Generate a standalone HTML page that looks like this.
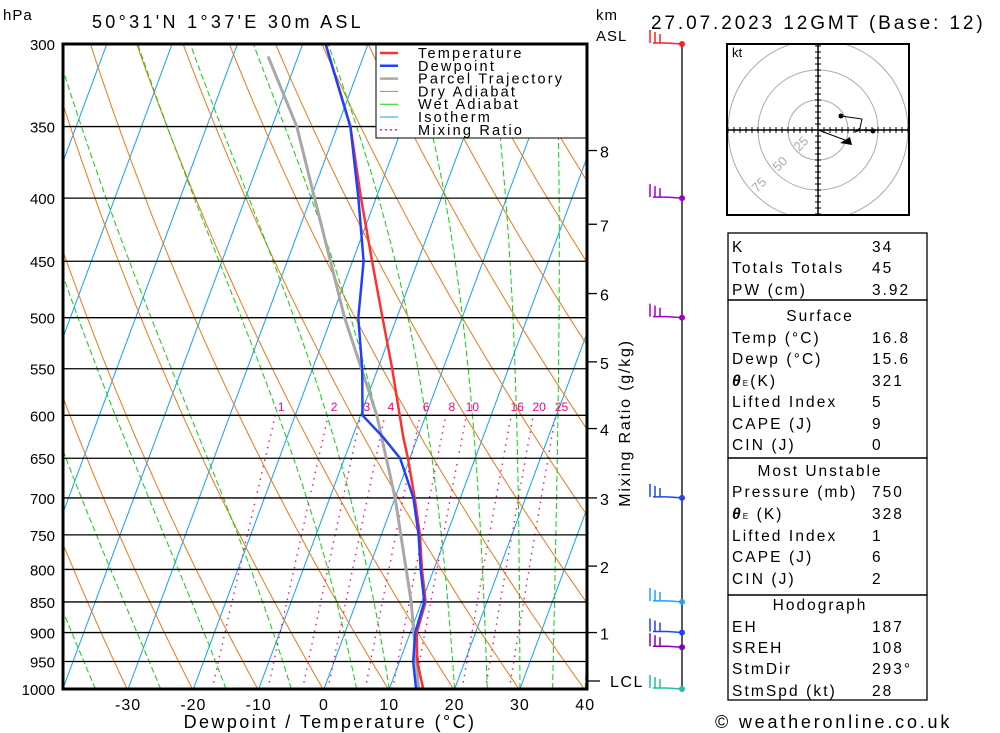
<!DOCTYPE html>
<html><head><meta charset="utf-8"><style>
body{margin:0;background:#fff;width:1000px;height:733px;overflow:hidden}
svg{display:block;font-family:"Liberation Sans",sans-serif}
</style></head><body>
<svg id="s" width="1000" height="733" viewBox="0 0 1000 733"></svg>
<script>
const pressures=[1000,950,900,850,800,750,700,650,625,600,550,500,450,400,350,300];
const temperature=[15.2,12.7,11.0,10.6,8.2,5.9,3.0,-0.3,-2.2,-4.0,-7.8,-12.2,-17.0,-22.3,-28.0,-36.5];
const dewpoint=[14.1,12.1,10.75,10.4,8.0,5.7,2.8,-1.5,-5.3,-9.7,-12.4,-15.9,-18.3,-22.7,-28.0,-36.5];
const parcelP=[1000,850,700,600,500,400,350,307];
const parcelT=[14.5,8.4,0,-7.5,-18,-29.4,-36.2,-44.6];
const isobarLabels=[300,350,400,450,500,550,600,650,700,750,800,850,900,950,1000];
const tempTicks=[-30,-20,-10,0,10,20,30,40];
const mixingRatios=[1,2,3,4,6,8,10,16,20,25];
const kmLabels=["1","2","3","4","5","6","7","8"];
const kmPressures=[900,795,700,615,543,478,420,366];
const windP=[300,400,500,700,850,900,925,1000];
const windColors=["#ff2020","#a000d0","#a000d0","#2040ff","#20a0ff","#2040ff","#8000c0","#20c0a0"];

const S=document.getElementById('s');const NS='http://www.w3.org/2000/svg';
function el(t,a,p){const e=document.createElementNS(NS,t);for(const k in a)e.setAttribute(k,a[k]);(p||S).appendChild(e);return e;}
const X0=324,KX=6.53,SK=0.372,YB=689,YT=44,PL=63,PR=587;
function yP(p){return YT+Math.log(p/300)/Math.log(1000/300)*(YB-YT);}
function xT(T,p){return X0+T*KX+SK*(YB-yP(p));}
function pts(arrP,arrT){return arrP.map((p,i)=>xT(arrT[i],p).toFixed(1)+','+yP(p).toFixed(1)).join(' ');}

el('defs',{}).innerHTML='<clipPath id="c"><rect x="63" y="44" width="524" height="645"/></clipPath>';
const g=el('g',{'clip-path':'url(#c)'});

for(let T=-120;T<=40;T+=10){const l=el('line',{x1:xT(T,1000),y1:YB,x2:xT(T,300),y2:YT,stroke:'#10a0ff','stroke-width':1},g);
}
for(let th=193;th<=473;th+=10){let a=[];for(let p=1000;p>=300;p-=10){a.push(xT(th*Math.pow(p/1000,0.2857)-273.15,p).toFixed(1)+','+yP(p).toFixed(1));}
const l=el('polyline',{points:a.join(' '),fill:'none',stroke:'#f07818','stroke-width':1},g);}
function es(T){return 6.112*Math.exp(17.67*T/(T+243.5));}
[-45,-35,-25,-15,-5,5,10,15,20,25,30,35,40].forEach(T0=>{let T=T0+273.15,a=[];
for(let p=1000;p>=300;p-=5){a.push(xT(T-273.15,p).toFixed(1)+','+yP(p).toFixed(1));
const rs=0.622*es(T-273.15)/(p-es(T-273.15));const dTdp=(287*T+2.5e6*rs)/(p*(1004+2.5e6*2.5e6*rs*0.622/(287*T*T)));T-=dTdp*5;}
const l=el('polyline',{points:a.join(' '),fill:'none',stroke:'#10d010','stroke-width':1,'stroke-dasharray':'6,3'},g);});
function tw(w,p){const e=w*p/(622+w);const L=Math.log(e/6.112);return 243.5*L/(17.67-L);}
mixingRatios.forEach(w=>{let a=[];for(let p=1000;p>=600;p-=10)a.push(xT(tw(w,p),p).toFixed(1)+','+yP(p).toFixed(1));
const l=el('polyline',{points:a.join(' '),fill:'none',stroke:'#ff0080','stroke-width':1.3,'stroke-dasharray':'1.5,5'},g);
const t=el('text',{x:xT(tw(w,600),600)+6,y:411,'font-size':12,fill:'#ff0080','text-anchor':'middle'},g);t.textContent=w;});
isobarLabels.forEach(p=>{const l=el('line',{x1:PL,x2:PR,y1:yP(p),y2:yP(p),stroke:'#000','stroke-width':1.3},g);
const t=el('text',{x:55,y:yP(p)+6,'font-size':15,'text-anchor':'end'});t.textContent=p;});
let l=el('polyline',{points:pts(parcelP,parcelT),fill:'none',stroke:'#a8a8a8','stroke-width':3},g);
l=el('polyline',{points:pts(pressures,temperature),fill:'none',stroke:'#ff3030','stroke-width':2.5},g);
l=el('polyline',{points:pts(pressures,dewpoint),fill:'none',stroke:'#2040ff','stroke-width':2.5},g);
const lg=el('g',{});
el('rect',{x:376,y:44,width:211,height:94,fill:'#fff',stroke:'#000','stroke-width':1},lg);
[["Temperature","#ff3030",2.5,""],["Dewpoint","#2040ff",2.5,""],["Parcel Trajectory","#a8a8a8",2.5,""],["Dry Adiabat","#f07818",1,""],["Wet Adiabat","#10d010",1,""],["Isotherm","#10a0ff",1,""],["Mixing Ratio","#ff0080",1.3,"2,3"]].forEach((e,i)=>{
const y=53+i*12.8;const ln=el('line',{x1:380,x2:398,y1:y,y2:y,stroke:e[1],'stroke-width':e[2],'stroke-dasharray':e[3]},lg);
const t=el('text',{x:418,y:y+5,'font-size':14.5,'letter-spacing':'2.2'},lg);t.textContent=e[0];});
el('rect',{x:PL,y:YT,width:PR-PL,height:YB-YT,fill:'none',stroke:'#000','stroke-width':3});
tempTicks.forEach(T=>{const t=el('text',{x:xT(T,1000),y:710,'font-size':16,'text-anchor':'middle','letter-spacing':'1'});t.textContent=T;});
function txt(x,y,s,size,name,extra){const t=el('text',Object.assign({x:x,y:y,'font-size':size},extra||{}));t.textContent=s;return t;}
txt(330,728,"Dewpoint / Temperature (°C)",18,'x-axis-title',{'text-anchor':'middle','letter-spacing':'2.4'});
txt(3,20,"hPa",15,'y-axis-unit',{'letter-spacing':'1'});
txt(92,28,"50°31'N  1°37'E  30m  ASL",18,'location-title',{'letter-spacing':'3.3'});
txt(596,20,"km",15,'km-axis-unit',{'letter-spacing':'1'});txt(596,41,"ASL",15,'km-axis-unit2',{'letter-spacing':'1'});
txt(651,29,"27.07.2023  12GMT  (Base: 12)",19,'date-title',{'letter-spacing':'2.9'});
kmLabels.forEach((k,i)=>{const y=yP(kmPressures[i]);el('line',{x1:PR,x2:597,y1:y,y2:y,stroke:'#000','stroke-width':1.3});txt(600,y+7,k,16,'km-tick-label');});
el('line',{x1:PR,x2:600,y1:681,y2:681,stroke:'#000','stroke-width':1.3});txt(610,687,"LCL",16,'lcl-label',{'letter-spacing':'1.5'});
txt(0,0,"Mixing Ratio (g/kg)",16,'mixing-ratio-axis-title',{transform:'translate(630,423) rotate(-90)','text-anchor':'middle','letter-spacing':'1.8'});
el('line',{x1:682,x2:682,y1:44,y2:689,stroke:'#000','stroke-width':1.3});
windP.forEach((p,i)=>{const y=yP(p),c=windColors[i];const wg=el('g',{});
el('polyline',{points:`682,${y} 667,${y-1} 653,${y-1}`,fill:'none',stroke:c,'stroke-width':1.5},wg);
for(let k=0;k<3;k++)el('line',{x1:650+k*5,x2:650+k*5,y1:y-1,y2:y-14+k*2,stroke:c,'stroke-width':1.5},wg);
el('circle',{cx:682,cy:y,r:3,fill:c},wg);});
const hg=el('g',{});
hg.innerHTML='<clipPath id="hc"><rect x="727" y="44" width="182" height="171"/></clipPath>';
const hc=el('g',{'clip-path':'url(#hc)'},hg);
[30,60,90].forEach(r=>el('circle',{cx:818,cy:130,r:r,fill:'none',stroke:'#aaa','stroke-width':1},hc));
el('line',{x1:727,x2:909,y1:130,y2:130,stroke:'#000','stroke-width':1.5},hc);el('line',{x1:818,x2:818,y1:44,y2:215,stroke:'#000','stroke-width':1.5},hc);
for(let d=-90;d<=90;d+=6){if(d===0)continue;el('line',{x1:818+d,x2:818+d,y1:127,y2:133,stroke:'#000'},hc);el('line',{x1:815,x2:821,y1:130+d,y2:130+d,stroke:'#000'},hc);}
[[25,799,152],[50,778,172],[75,757,193]].forEach(a=>{const t=el('text',{x:a[1],y:a[2],'font-size':13,fill:'#aaa',transform:`rotate(-45 ${a[1]} ${a[2]})`},hc);t.textContent=a[0];});
el('polyline',{points:'841,116 862,119 860,128 855,132 860,130 873,131',fill:'none',stroke:'#000','stroke-width':1},hc);
el('circle',{cx:841,cy:116,r:2.5,fill:'#000'},hc);el('circle',{cx:873,cy:131,r:2.5,fill:'#000'},hc);
el('line',{x1:818,y1:130,x2:845,y2:140,stroke:'#000','stroke-width':1},hc);el('polygon',{points:'840,143 850,137 852,145',fill:'#000'},hc);
el('text',{x:732,y:57,'font-size':13},hg).textContent='kt';
el('rect',{x:727,y:44,width:182,height:171,fill:'none',stroke:'#000','stroke-width':2},hg);
const tb=el('g',{});
[[233,300],[300,458],[458,595],[595,700]].forEach(b=>el('rect',{x:728,y:b[0],width:199,height:b[1]-b[0],fill:'none',stroke:'#000','stroke-width':1.3},tb));
const rows=[[247,"K","34"],[268,"Totals Totals","45"],[290,"PW (cm)","3.92"],[316,"Surface",null],[338,"Temp (°C)","16.8"],[359,"Dewp (°C)","15.6"],[381,"θ",  "321"],[402,"Lifted Index","5"],[424,"CAPE (J)","9"],[445,"CIN (J)","0"],[471,"Most Unstable",null],[492,"Pressure (mb)","750"],[514,"θ","328"],[536,"Lifted Index","1"],[557,"CAPE (J)","6"],[579,"CIN (J)","2"],[605,"Hodograph",null],[627,"EH","187"],[648,"SREH","108"],[669,"StmDir","293°"],[691,"StmSpd (kt)","28"]];
rows.forEach((r,i)=>{if(r[2]===null){const t=el('text',{x:820,y:r[0]+5,'font-size':15.5,'text-anchor':'middle','letter-spacing':'2'},tb);t.textContent=r[1];return;}
const t=el('text',{x:732,y:r[0]+5,'font-size':15.5,'letter-spacing':'2.1'},tb);
if(r[1]==="θ"){t.innerHTML=i<10?'<tspan font-weight="bold" font-style="italic">θ</tspan><tspan font-size="8">E</tspan>(K)':'<tspan font-weight="bold" font-style="italic">θ</tspan><tspan font-size="8">E</tspan> (K)';}else t.textContent=r[1];

const v=el('text',{x:872,y:r[0]+5,'font-size':15.5,'letter-spacing':'2'},tb);v.textContent=r[2];});
txt(715,728,"© weatheronline.co.uk",18,'copyright',{'letter-spacing':'2.8'});
</script>
</body></html>
